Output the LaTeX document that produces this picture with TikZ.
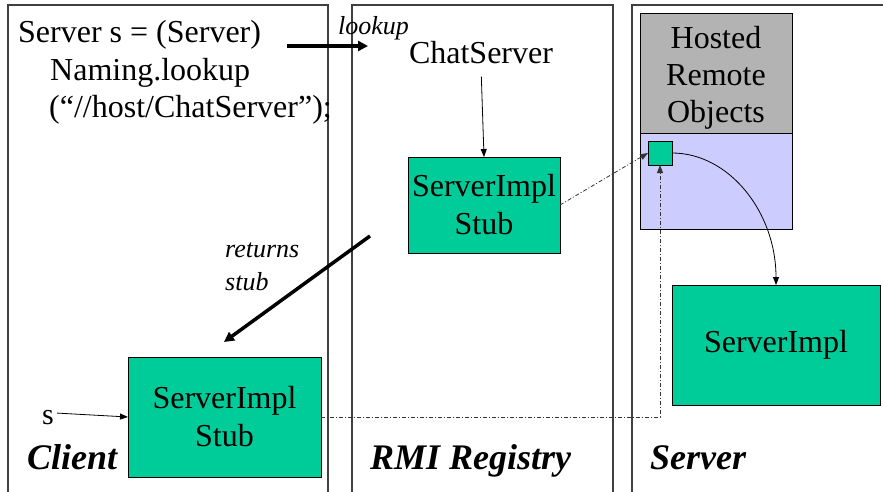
\documentclass[tikz,border=0pt]{standalone}
\usepackage{fontspec}
\setmainfont{Liberation Serif}
\usetikzlibrary{arrows.meta,calc}
\definecolor{stubgreen}{HTML}{00CC99}
\definecolor{hostgray}{HTML}{B3B3B3}
\definecolor{hostblue}{HTML}{CCCCFF}
\definecolor{panelline}{HTML}{404040}
\begin{document}
\begin{tikzpicture}[x=1pt,y=-1pt,
  panel/.style={draw=panelline,line width=1.2pt},
  objbox/.style={draw=black,line width=0.8pt,fill=stubgreen,inner sep=0pt,outer sep=0pt,
    align=center,font=\fontsize{32}{38}\selectfont},
  codetext/.style={anchor=base west,inner sep=0pt,font=\fontsize{32}{38}\selectfont},
  remark/.style={anchor=base west,inner sep=0pt,font=\fontsize{26}{33}\selectfont\itshape},
  tiername/.style={anchor=base west,inner sep=0pt,font=\fontsize{36}{40}\selectfont\bfseries\itshape},
  thinarrow/.style={draw=black,line width=0.8pt,-{Triangle[length=8pt,width=6pt]}},
  fatarrow/.style={draw=black,line width=3.5pt,-{Triangle[length=10pt,width=10pt]}},
  remoteref/.style={draw=black!80,line width=0.8pt,dash pattern=on 4pt off 2pt on 1pt off 2pt,
    -{Triangle[length=8pt,width=6pt]}}
]
\useasboundingbox (0,0) rectangle (883,492);

% three tiers, open at the bottom
\draw[panel] (8,495) -- (8,5) -- (328,5) -- (328,495);
\draw[panel] (352,495) -- (352,5) -- (613,5) -- (613,495);
\draw[panel] (632,495) -- (632,5) -- (890,5);

% client code
\node[codetext] (code1) at (18,43) {Server s = (Server)};
\node[codetext] (code2) at (50,81) {Naming.lookup};
\node[codetext] (code3) at (49,118) {(“//host/ChatServer”);};

% registry contents
\node[anchor=base,inner sep=2pt,font=\fontsize{32}{38}\selectfont] (cs) at (481,64) {ChatServer};
\node[objbox,minimum width=152pt,minimum height=96pt] (regstub) at (484,205) {ServerImpl\\Stub};

% hosted remote objects on the server
\node[draw=black,line width=0.8pt,fill=hostgray,inner sep=0pt,outer sep=0pt,
  minimum width=152pt,minimum height=120pt] (hostgray) at (716,73) {};
\node[draw=black,line width=0.8pt,fill=hostblue,inner sep=0pt,outer sep=0pt,
  minimum width=152pt,minimum height=96pt] (hostblue) at (716,181) {};
\node[align=center,inner sep=0pt,font=\fontsize{32}{37}\selectfont] (hosttext) at (716,78)
  {Hosted\\Remote\\Objects};
\node[draw=black,line width=0.8pt,fill=stubgreen,inner sep=0pt,outer sep=0pt,
  minimum width=24pt,minimum height=24pt] (sq) at (660,153) {};

% server implementation
\node[objbox,minimum width=208pt,minimum height=120pt] (impl) at (776,345) {ServerImpl};

% client stub
\node[objbox,minimum width=193pt,minimum height=120pt] (clientstub) at (224.5,417) {ServerImpl\\Stub};
\node[anchor=base,inner sep=1pt,font=\fontsize{30}{34}\selectfont] (slabel) at (48,424) {s};

% tier names
\node[tiername] (tclient) at (27,469) {Client};
\node[tiername] (treg) at (370,469) {RMI Registry};
\node[tiername] (tserver) at (650,469) {Server};

% lookup call
\coordinate (lkA) at (287,46);
\coordinate (lkB) at (368,46);
\draw[fatarrow] (lkA) -- (lkB);
\node[remark] (lookup) at (338,35) {lookup};

% stub handed back to the client
\coordinate (rtA) at (370,236);
\coordinate (rtB) at (224,342);
\draw[fatarrow] (rtA) -- (rtB);
\node[remark] (returns) at (225,257) {returns};
\node[remark] (stub) at (225,290) {stub};

% registry binding
\draw[thinarrow,shorten <=10pt] (cs.south) -- (regstub.north);

% references
\draw[thinarrow] ($(slabel.east)+(2,-4)$) -- (clientstub.west);
\draw[remoteref] (regstub.east) -- (sq.west);
\draw[remoteref] (clientstub.east) -| (sq.south);
\draw[thinarrow] (sq.east) .. controls (729,153) and (776,212) .. (impl.north);
\end{tikzpicture}
\end{document}
